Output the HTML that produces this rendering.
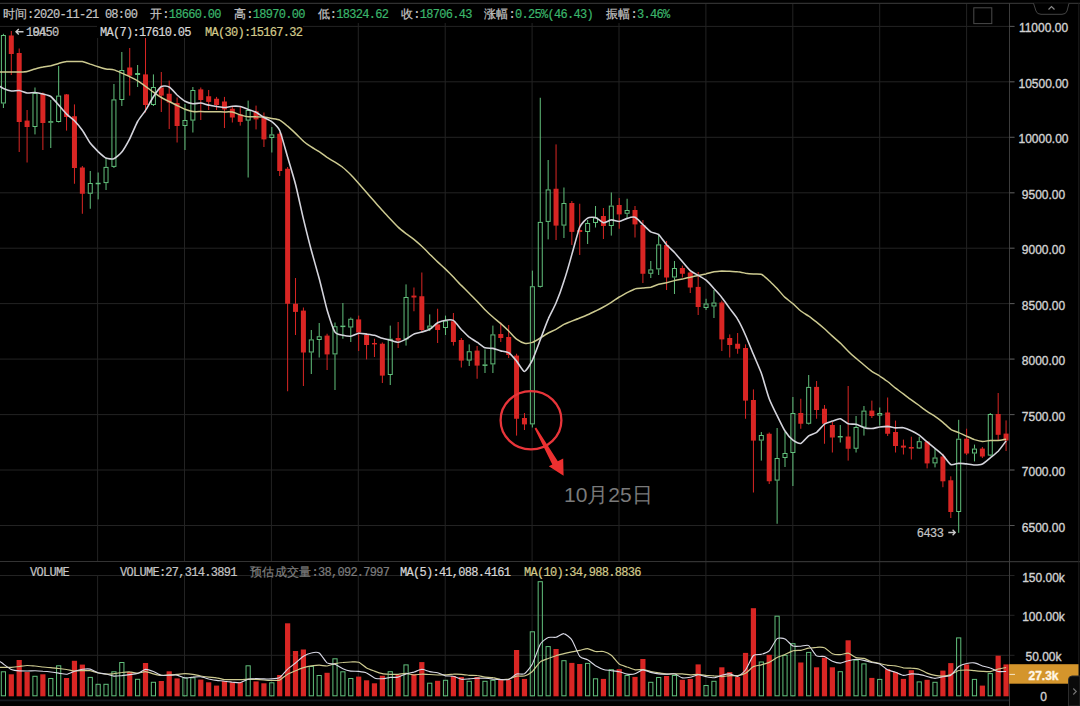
<!DOCTYPE html>
<html><head><meta charset="utf-8">
<style>
html,body{margin:0;padding:0;background:#000;}
body{width:1080px;height:706px;position:relative;overflow:hidden;}
svg{position:absolute;left:0;top:0;}
.t{position:absolute;-webkit-text-stroke:0.2px currentColor;font-family:"Liberation Mono",monospace;font-size:12px;letter-spacing:-0.72px;line-height:14px;white-space:pre;color:#c4c4c4;}
.cj{letter-spacing:0.3px;}
.gr{color:#3bb56b;}
.ax{position:absolute;left:1010px;width:67px;text-align:center;font-family:"Liberation Sans",sans-serif;font-size:12px;line-height:15px;color:#d2d2d2;-webkit-text-stroke:0.35px currentColor;}
.bg{position:absolute;background:#000;}
.note{position:absolute;left:564px;top:482.5px;font-family:"Liberation Sans",sans-serif;font-size:21px;line-height:24px;color:#7a7a7a;white-space:pre;}
</style></head><body>
<svg width="1080" height="706" viewBox="0 0 1080 706">
<line x1="0" y1="26.4" x2="1014.5" y2="26.4" stroke="#232323" stroke-width="1"/>
<line x1="0" y1="81.8" x2="1014.5" y2="81.8" stroke="#232323" stroke-width="1"/>
<line x1="0" y1="137.3" x2="1014.5" y2="137.3" stroke="#232323" stroke-width="1"/>
<line x1="0" y1="192.8" x2="1014.5" y2="192.8" stroke="#232323" stroke-width="1"/>
<line x1="0" y1="248.2" x2="1014.5" y2="248.2" stroke="#232323" stroke-width="1"/>
<line x1="0" y1="303.6" x2="1014.5" y2="303.6" stroke="#232323" stroke-width="1"/>
<line x1="0" y1="359.1" x2="1014.5" y2="359.1" stroke="#232323" stroke-width="1"/>
<line x1="0" y1="414.6" x2="1014.5" y2="414.6" stroke="#232323" stroke-width="1"/>
<line x1="0" y1="470.0" x2="1014.5" y2="470.0" stroke="#232323" stroke-width="1"/>
<line x1="0" y1="525.5" x2="1014.5" y2="525.5" stroke="#232323" stroke-width="1"/>
<line x1="0" y1="575.5" x2="1014.5" y2="575.5" stroke="#232323" stroke-width="1"/>
<line x1="0" y1="615.3" x2="1014.5" y2="615.3" stroke="#232323" stroke-width="1"/>
<line x1="0" y1="655.3" x2="1014.5" y2="655.3" stroke="#232323" stroke-width="1"/>
<line x1="97.6" y1="3" x2="97.6" y2="697" stroke="#232323" stroke-width="1"/>
<line x1="184.5" y1="3" x2="184.5" y2="697" stroke="#232323" stroke-width="1"/>
<line x1="271.4" y1="3" x2="271.4" y2="697" stroke="#232323" stroke-width="1"/>
<line x1="358.3" y1="3" x2="358.3" y2="697" stroke="#232323" stroke-width="1"/>
<line x1="445.2" y1="3" x2="445.2" y2="697" stroke="#232323" stroke-width="1"/>
<line x1="532.1" y1="3" x2="532.1" y2="697" stroke="#232323" stroke-width="1"/>
<line x1="619.0" y1="3" x2="619.0" y2="697" stroke="#232323" stroke-width="1"/>
<line x1="705.9" y1="3" x2="705.9" y2="697" stroke="#232323" stroke-width="1"/>
<line x1="792.8" y1="3" x2="792.8" y2="697" stroke="#232323" stroke-width="1"/>
<line x1="879.7" y1="3" x2="879.7" y2="697" stroke="#232323" stroke-width="1"/>
<line x1="966.6" y1="3" x2="966.6" y2="697" stroke="#232323" stroke-width="1"/>
<line x1="0" y1="3.3" x2="1080" y2="3.3" stroke="#303030" stroke-width="1.2"/>
<line x1="0" y1="561.6" x2="1080" y2="561.6" stroke="#333" stroke-width="1.2"/>
<line x1="0" y1="700.3" x2="1009" y2="700.3" stroke="#161a20" stroke-width="1.8"/>
<line x1="1009.5" y1="3" x2="1009.5" y2="706" stroke="#3c3c3c" stroke-width="1"/>
<line x1="1078.8" y1="3" x2="1078.8" y2="706" stroke="#1e1e1e" stroke-width="1"/>
<g fill="#d92624"><rect x="8.79" y="35.50" width="5" height="18.50"/><rect x="10.79" y="31.00" width="1" height="44.00"/><rect x="16.69" y="53.00" width="5" height="69.00"/><rect x="18.69" y="48.50" width="1" height="103.50"/><rect x="24.58" y="120.60" width="5" height="6.40"/><rect x="26.58" y="110.00" width="1" height="52.50"/><rect x="40.37" y="93.75" width="5" height="29.25"/><rect x="42.37" y="92.50" width="1" height="57.50"/><rect x="64.06" y="94.40" width="5" height="22.60"/><rect x="66.06" y="94.00" width="1" height="36.60"/><rect x="71.95" y="116.25" width="5" height="51.75"/><rect x="73.95" y="104.40" width="1" height="79.35"/><rect x="79.85" y="167.50" width="5" height="26.25"/><rect x="81.85" y="166.00" width="1" height="47.75"/><rect x="127.22" y="67.50" width="5" height="8.10"/><rect x="129.22" y="48.00" width="1" height="47.60"/><rect x="143.01" y="74.40" width="5" height="30.60"/><rect x="145.01" y="36.25" width="1" height="76.25"/><rect x="158.80" y="87.50" width="5" height="8.10"/><rect x="160.80" y="72.00" width="1" height="40.00"/><rect x="166.69" y="93.75" width="5" height="8.75"/><rect x="168.69" y="80.60" width="1" height="48.40"/><rect x="174.59" y="103.00" width="5" height="23.00"/><rect x="176.59" y="97.50" width="1" height="45.00"/><rect x="198.28" y="89.40" width="5" height="10.60"/><rect x="200.28" y="87.50" width="1" height="32.50"/><rect x="206.17" y="96.25" width="5" height="5.65"/><rect x="208.17" y="90.00" width="1" height="20.00"/><rect x="214.06" y="98.75" width="5" height="6.25"/><rect x="216.06" y="96.90" width="1" height="13.10"/><rect x="221.96" y="101.50" width="5" height="7.90"/><rect x="223.96" y="96.90" width="1" height="31.10"/><rect x="229.85" y="108.75" width="5" height="8.75"/><rect x="231.85" y="107.00" width="1" height="15.50"/><rect x="237.75" y="114.40" width="5" height="7.50"/><rect x="239.75" y="107.00" width="1" height="18.60"/><rect x="253.54" y="111.25" width="5" height="8.15"/><rect x="255.54" y="105.60" width="1" height="23.80"/><rect x="261.43" y="117.50" width="5" height="21.90"/><rect x="263.43" y="112.50" width="1" height="34.50"/><rect x="277.22" y="133.75" width="5" height="37.25"/><rect x="279.22" y="132.00" width="1" height="44.00"/><rect x="285.12" y="168.75" width="5" height="135.00"/><rect x="287.12" y="167.00" width="1" height="224.25"/><rect x="293.01" y="303.75" width="5" height="8.15"/><rect x="295.01" y="278.00" width="1" height="57.00"/><rect x="300.91" y="310.60" width="5" height="41.90"/><rect x="302.91" y="307.50" width="1" height="78.50"/><rect x="324.59" y="335.60" width="5" height="18.80"/><rect x="326.59" y="333.75" width="1" height="36.25"/><rect x="356.17" y="319.40" width="5" height="13.10"/><rect x="358.17" y="315.60" width="1" height="35.40"/><rect x="364.07" y="335.00" width="5" height="10.00"/><rect x="366.07" y="333.00" width="1" height="26.40"/><rect x="371.96" y="343.00" width="5" height="1.40"/><rect x="373.96" y="338.75" width="1" height="18.25"/><rect x="379.86" y="343.75" width="5" height="31.85"/><rect x="381.86" y="342.50" width="1" height="40.50"/><rect x="395.65" y="338.00" width="5" height="2.60"/><rect x="397.65" y="322.00" width="1" height="26.00"/><rect x="411.44" y="295.60" width="5" height="1.90"/><rect x="413.44" y="287.50" width="1" height="23.75"/><rect x="419.33" y="296.25" width="5" height="33.75"/><rect x="421.33" y="272.50" width="1" height="59.50"/><rect x="435.12" y="324.40" width="5" height="5.60"/><rect x="437.12" y="308.75" width="1" height="34.25"/><rect x="450.91" y="321.25" width="5" height="20.75"/><rect x="452.91" y="313.00" width="1" height="32.60"/><rect x="458.81" y="340.00" width="5" height="20.60"/><rect x="460.81" y="338.00" width="1" height="29.50"/><rect x="474.60" y="350.60" width="5" height="15.00"/><rect x="476.60" y="346.00" width="1" height="32.75"/><rect x="498.28" y="334.00" width="5" height="4.00"/><rect x="500.28" y="322.50" width="1" height="19.50"/><rect x="506.18" y="337.00" width="5" height="18.00"/><rect x="508.18" y="325.00" width="1" height="33.00"/><rect x="514.07" y="355.60" width="5" height="63.15"/><rect x="516.07" y="353.75" width="1" height="81.85"/><rect x="521.97" y="418.00" width="5" height="6.40"/><rect x="523.97" y="413.00" width="1" height="17.00"/><rect x="553.55" y="188.75" width="5" height="36.85"/><rect x="555.55" y="144.40" width="1" height="95.60"/><rect x="569.34" y="203.00" width="5" height="28.90"/><rect x="571.34" y="201.00" width="1" height="44.00"/><rect x="577.23" y="230.00" width="5" height="2.00"/><rect x="579.23" y="203.75" width="1" height="51.25"/><rect x="600.92" y="216.00" width="5" height="10.00"/><rect x="602.92" y="208.00" width="1" height="31.00"/><rect x="616.71" y="205.00" width="5" height="9.40"/><rect x="618.71" y="198.00" width="1" height="30.75"/><rect x="632.50" y="210.00" width="5" height="14.40"/><rect x="634.50" y="206.00" width="1" height="31.50"/><rect x="640.39" y="225.00" width="5" height="48.75"/><rect x="642.39" y="220.00" width="1" height="63.00"/><rect x="664.08" y="245.00" width="5" height="32.50"/><rect x="666.08" y="241.00" width="1" height="49.00"/><rect x="679.87" y="268.00" width="5" height="5.75"/><rect x="681.87" y="265.60" width="1" height="11.90"/><rect x="687.76" y="272.50" width="5" height="15.00"/><rect x="689.76" y="270.00" width="1" height="23.00"/><rect x="695.66" y="286.90" width="5" height="20.10"/><rect x="697.66" y="272.00" width="1" height="43.00"/><rect x="719.34" y="302.50" width="5" height="36.90"/><rect x="721.34" y="300.60" width="1" height="50.40"/><rect x="727.24" y="338.00" width="5" height="7.00"/><rect x="729.24" y="334.40" width="1" height="23.10"/><rect x="735.13" y="343.75" width="5" height="5.00"/><rect x="737.13" y="333.00" width="1" height="20.75"/><rect x="743.03" y="348.00" width="5" height="52.60"/><rect x="745.03" y="344.40" width="1" height="74.35"/><rect x="750.92" y="400.00" width="5" height="40.60"/><rect x="752.92" y="389.40" width="1" height="103.10"/><rect x="766.71" y="433.75" width="5" height="47.50"/><rect x="768.71" y="432.50" width="1" height="51.50"/><rect x="798.29" y="413.00" width="5" height="10.75"/><rect x="800.29" y="398.75" width="1" height="30.00"/><rect x="814.08" y="386.90" width="5" height="23.10"/><rect x="816.08" y="381.00" width="1" height="37.75"/><rect x="821.98" y="408.75" width="5" height="15.00"/><rect x="823.98" y="405.00" width="1" height="38.75"/><rect x="829.87" y="425.00" width="5" height="12.50"/><rect x="831.87" y="422.00" width="1" height="30.50"/><rect x="845.66" y="436.50" width="5" height="12.25"/><rect x="847.66" y="386.00" width="1" height="74.60"/><rect x="869.35" y="410.60" width="5" height="5.40"/><rect x="871.35" y="400.60" width="1" height="17.40"/><rect x="885.14" y="412.50" width="5" height="21.25"/><rect x="887.14" y="397.50" width="1" height="38.50"/><rect x="893.03" y="432.00" width="5" height="14.00"/><rect x="895.03" y="420.60" width="1" height="31.90"/><rect x="900.93" y="445.60" width="5" height="2.00"/><rect x="902.93" y="439.60" width="1" height="14.90"/><rect x="908.82" y="447.00" width="5" height="1.60"/><rect x="910.82" y="436.70" width="1" height="22.80"/><rect x="924.61" y="441.60" width="5" height="21.80"/><rect x="926.61" y="441.00" width="1" height="27.40"/><rect x="940.40" y="456.50" width="5" height="24.80"/><rect x="942.40" y="453.75" width="1" height="33.45"/><rect x="948.30" y="480.30" width="5" height="31.70"/><rect x="950.30" y="476.30" width="1" height="41.70"/><rect x="964.09" y="438.70" width="5" height="14.80"/><rect x="966.09" y="428.70" width="1" height="26.30"/><rect x="979.88" y="448.60" width="5" height="7.90"/><rect x="981.88" y="447.00" width="1" height="11.00"/><rect x="995.67" y="414.00" width="5" height="20.80"/><rect x="997.67" y="393.00" width="1" height="47.00"/><rect x="1003.56" y="433.60" width="5" height="6.90"/><rect x="1005.56" y="420.40" width="1" height="30.60"/></g>
<g><rect x="1.40" y="35.50" width="4" height="67.50" fill="none" stroke="#62c07c" stroke-width="1"/><rect x="2.90" y="33.80" width="1" height="1.20" fill="#62c07c"/><rect x="2.90" y="103.50" width="1" height="4.50" fill="#62c07c"/><rect x="32.98" y="93.50" width="4" height="33.00" fill="none" stroke="#62c07c" stroke-width="1"/><rect x="34.48" y="87.50" width="1" height="5.50" fill="#62c07c"/><rect x="34.48" y="127.00" width="1" height="7.40" fill="#62c07c"/><rect x="48.77" y="121.70" width="4" height="0.50" fill="none" stroke="#62c07c" stroke-width="1"/><rect x="50.27" y="100.00" width="1" height="21.20" fill="#62c07c"/><rect x="50.27" y="122.70" width="1" height="25.30" fill="#62c07c"/><rect x="56.66" y="96.10" width="4" height="25.40" fill="none" stroke="#62c07c" stroke-width="1"/><rect x="58.16" y="66.00" width="1" height="29.60" fill="#62c07c"/><rect x="58.16" y="122.00" width="1" height="0.50" fill="#62c07c"/><rect x="88.25" y="183.50" width="4" height="9.75" fill="none" stroke="#62c07c" stroke-width="1"/><rect x="89.75" y="171.00" width="1" height="12.00" fill="#62c07c"/><rect x="89.75" y="193.75" width="1" height="15.00" fill="#62c07c"/><rect x="96.14" y="183.25" width="4" height="0.50" fill="none" stroke="#62c07c" stroke-width="1"/><rect x="97.64" y="172.50" width="1" height="10.25" fill="#62c07c"/><rect x="97.64" y="183.75" width="1" height="15.65" fill="#62c07c"/><rect x="104.03" y="167.40" width="4" height="15.20" fill="none" stroke="#62c07c" stroke-width="1"/><rect x="105.53" y="158.00" width="1" height="8.90" fill="#62c07c"/><rect x="105.53" y="183.10" width="1" height="6.90" fill="#62c07c"/><rect x="111.93" y="99.90" width="4" height="66.50" fill="none" stroke="#62c07c" stroke-width="1"/><rect x="113.43" y="84.00" width="1" height="15.40" fill="#62c07c"/><rect x="113.43" y="166.90" width="1" height="1.10" fill="#62c07c"/><rect x="119.83" y="70.50" width="4" height="29.00" fill="none" stroke="#62c07c" stroke-width="1"/><rect x="121.33" y="52.00" width="1" height="18.00" fill="#62c07c"/><rect x="121.33" y="100.00" width="1" height="6.00" fill="#62c07c"/><rect x="135.62" y="73.50" width="4" height="1.00" fill="none" stroke="#62c07c" stroke-width="1"/><rect x="137.12" y="65.00" width="1" height="8.00" fill="#62c07c"/><rect x="137.12" y="75.00" width="1" height="12.00" fill="#62c07c"/><rect x="151.41" y="87.50" width="4" height="17.00" fill="none" stroke="#62c07c" stroke-width="1"/><rect x="152.91" y="74.40" width="1" height="12.60" fill="#62c07c"/><rect x="152.91" y="105.00" width="1" height="1.00" fill="#62c07c"/><rect x="182.98" y="120.50" width="4" height="5.00" fill="none" stroke="#62c07c" stroke-width="1"/><rect x="184.48" y="104.00" width="1" height="16.00" fill="#62c07c"/><rect x="184.48" y="126.00" width="1" height="24.00" fill="#62c07c"/><rect x="190.88" y="90.50" width="4" height="29.60" fill="none" stroke="#62c07c" stroke-width="1"/><rect x="192.38" y="87.00" width="1" height="3.00" fill="#62c07c"/><rect x="192.38" y="120.60" width="1" height="11.90" fill="#62c07c"/><rect x="246.14" y="110.50" width="4" height="9.60" fill="none" stroke="#62c07c" stroke-width="1"/><rect x="247.64" y="100.60" width="1" height="9.40" fill="#62c07c"/><rect x="247.64" y="120.60" width="1" height="56.90" fill="#62c07c"/><rect x="269.83" y="134.90" width="4" height="2.60" fill="none" stroke="#62c07c" stroke-width="1"/><rect x="271.33" y="127.00" width="1" height="7.40" fill="#62c07c"/><rect x="271.33" y="138.00" width="1" height="14.50" fill="#62c07c"/><rect x="309.30" y="339.90" width="4" height="12.10" fill="none" stroke="#62c07c" stroke-width="1"/><rect x="310.80" y="330.00" width="1" height="9.40" fill="#62c07c"/><rect x="310.80" y="352.50" width="1" height="21.50" fill="#62c07c"/><rect x="317.20" y="336.75" width="4" height="2.75" fill="none" stroke="#62c07c" stroke-width="1"/><rect x="318.70" y="323.00" width="1" height="13.25" fill="#62c07c"/><rect x="318.70" y="340.00" width="1" height="17.50" fill="#62c07c"/><rect x="332.99" y="326.75" width="4" height="27.15" fill="none" stroke="#62c07c" stroke-width="1"/><rect x="334.49" y="322.50" width="1" height="3.75" fill="#62c07c"/><rect x="334.49" y="354.40" width="1" height="35.60" fill="#62c07c"/><rect x="340.88" y="326.10" width="4" height="0.50" fill="none" stroke="#62c07c" stroke-width="1"/><rect x="342.38" y="303.00" width="1" height="22.60" fill="#62c07c"/><rect x="342.38" y="327.00" width="1" height="11.75" fill="#62c07c"/><rect x="348.78" y="319.25" width="4" height="7.75" fill="none" stroke="#62c07c" stroke-width="1"/><rect x="350.28" y="317.50" width="1" height="1.25" fill="#62c07c"/><rect x="350.28" y="327.50" width="1" height="14.50" fill="#62c07c"/><rect x="388.25" y="339.25" width="4" height="35.25" fill="none" stroke="#62c07c" stroke-width="1"/><rect x="389.75" y="325.60" width="1" height="13.15" fill="#62c07c"/><rect x="389.75" y="375.00" width="1" height="10.00" fill="#62c07c"/><rect x="404.04" y="297.50" width="4" height="41.40" fill="none" stroke="#62c07c" stroke-width="1"/><rect x="405.54" y="284.40" width="1" height="12.60" fill="#62c07c"/><rect x="405.54" y="339.40" width="1" height="6.20" fill="#62c07c"/><rect x="427.73" y="326.10" width="4" height="2.15" fill="none" stroke="#62c07c" stroke-width="1"/><rect x="429.23" y="314.40" width="1" height="11.20" fill="#62c07c"/><rect x="429.23" y="328.75" width="1" height="2.25" fill="#62c07c"/><rect x="443.52" y="321.10" width="4" height="6.40" fill="none" stroke="#62c07c" stroke-width="1"/><rect x="445.02" y="315.60" width="1" height="5.00" fill="#62c07c"/><rect x="445.02" y="328.00" width="1" height="7.00" fill="#62c07c"/><rect x="467.20" y="351.75" width="4" height="8.35" fill="none" stroke="#62c07c" stroke-width="1"/><rect x="468.70" y="344.40" width="1" height="6.85" fill="#62c07c"/><rect x="468.70" y="360.60" width="1" height="5.40" fill="#62c07c"/><rect x="482.99" y="364.90" width="4" height="0.50" fill="none" stroke="#62c07c" stroke-width="1"/><rect x="484.49" y="349.40" width="1" height="15.00" fill="#62c07c"/><rect x="484.49" y="365.60" width="1" height="7.40" fill="#62c07c"/><rect x="490.89" y="334.90" width="4" height="29.00" fill="none" stroke="#62c07c" stroke-width="1"/><rect x="492.39" y="325.60" width="1" height="8.80" fill="#62c07c"/><rect x="492.39" y="364.40" width="1" height="8.60" fill="#62c07c"/><rect x="530.36" y="286.75" width="4" height="137.15" fill="none" stroke="#62c07c" stroke-width="1"/><rect x="531.86" y="270.60" width="1" height="15.65" fill="#62c07c"/><rect x="531.86" y="424.40" width="1" height="3.10" fill="#62c07c"/><rect x="538.26" y="222.40" width="4" height="64.00" fill="none" stroke="#62c07c" stroke-width="1"/><rect x="539.76" y="97.75" width="1" height="124.15" fill="#62c07c"/><rect x="539.76" y="286.90" width="1" height="0.60" fill="#62c07c"/><rect x="546.15" y="189.90" width="4" height="31.50" fill="none" stroke="#62c07c" stroke-width="1"/><rect x="547.65" y="160.00" width="1" height="29.40" fill="#62c07c"/><rect x="547.65" y="221.90" width="1" height="17.50" fill="#62c07c"/><rect x="561.94" y="203.50" width="4" height="21.60" fill="none" stroke="#62c07c" stroke-width="1"/><rect x="563.44" y="187.50" width="1" height="15.50" fill="#62c07c"/><rect x="563.44" y="225.60" width="1" height="12.40" fill="#62c07c"/><rect x="585.63" y="223.50" width="4" height="8.00" fill="none" stroke="#62c07c" stroke-width="1"/><rect x="587.13" y="220.00" width="1" height="3.00" fill="#62c07c"/><rect x="587.13" y="232.00" width="1" height="12.00" fill="#62c07c"/><rect x="593.52" y="218.00" width="4" height="4.50" fill="none" stroke="#62c07c" stroke-width="1"/><rect x="595.02" y="206.00" width="1" height="11.50" fill="#62c07c"/><rect x="595.02" y="223.00" width="1" height="4.50" fill="#62c07c"/><rect x="609.31" y="206.10" width="4" height="19.40" fill="none" stroke="#62c07c" stroke-width="1"/><rect x="610.81" y="192.50" width="1" height="13.10" fill="#62c07c"/><rect x="610.81" y="226.00" width="1" height="9.60" fill="#62c07c"/><rect x="625.10" y="210.50" width="4" height="2.75" fill="none" stroke="#62c07c" stroke-width="1"/><rect x="626.60" y="198.75" width="1" height="11.25" fill="#62c07c"/><rect x="626.60" y="213.75" width="1" height="5.00" fill="#62c07c"/><rect x="648.79" y="269.90" width="4" height="3.35" fill="none" stroke="#62c07c" stroke-width="1"/><rect x="650.29" y="261.00" width="1" height="8.40" fill="#62c07c"/><rect x="650.29" y="273.75" width="1" height="4.25" fill="#62c07c"/><rect x="656.68" y="244.90" width="4" height="24.00" fill="none" stroke="#62c07c" stroke-width="1"/><rect x="658.18" y="233.75" width="1" height="10.65" fill="#62c07c"/><rect x="658.18" y="269.40" width="1" height="5.60" fill="#62c07c"/><rect x="672.47" y="268.50" width="4" height="8.50" fill="none" stroke="#62c07c" stroke-width="1"/><rect x="673.97" y="261.00" width="1" height="7.00" fill="#62c07c"/><rect x="673.97" y="277.50" width="1" height="16.50" fill="#62c07c"/><rect x="704.05" y="304.00" width="4" height="3.50" fill="none" stroke="#62c07c" stroke-width="1"/><rect x="705.55" y="298.75" width="1" height="4.75" fill="#62c07c"/><rect x="705.55" y="308.00" width="1" height="2.00" fill="#62c07c"/><rect x="711.95" y="303.00" width="4" height="3.00" fill="none" stroke="#62c07c" stroke-width="1"/><rect x="713.45" y="290.00" width="1" height="12.50" fill="#62c07c"/><rect x="713.45" y="306.50" width="1" height="11.50" fill="#62c07c"/><rect x="759.32" y="435.50" width="4" height="4.60" fill="none" stroke="#62c07c" stroke-width="1"/><rect x="760.82" y="432.00" width="1" height="3.00" fill="#62c07c"/><rect x="760.82" y="440.60" width="1" height="20.00" fill="#62c07c"/><rect x="775.11" y="458.50" width="4" height="21.60" fill="none" stroke="#62c07c" stroke-width="1"/><rect x="776.61" y="428.00" width="1" height="30.00" fill="#62c07c"/><rect x="776.61" y="480.60" width="1" height="43.15" fill="#62c07c"/><rect x="783.00" y="453.50" width="4" height="4.00" fill="none" stroke="#62c07c" stroke-width="1"/><rect x="784.50" y="432.00" width="1" height="21.00" fill="#62c07c"/><rect x="784.50" y="458.00" width="1" height="9.00" fill="#62c07c"/><rect x="790.90" y="413.50" width="4" height="39.00" fill="none" stroke="#62c07c" stroke-width="1"/><rect x="792.40" y="397.00" width="1" height="16.00" fill="#62c07c"/><rect x="792.40" y="453.00" width="1" height="33.00" fill="#62c07c"/><rect x="806.69" y="387.40" width="4" height="35.85" fill="none" stroke="#62c07c" stroke-width="1"/><rect x="808.19" y="375.00" width="1" height="11.90" fill="#62c07c"/><rect x="808.19" y="423.75" width="1" height="0.75" fill="#62c07c"/><rect x="838.27" y="436.50" width="4" height="0.50" fill="none" stroke="#62c07c" stroke-width="1"/><rect x="839.77" y="425.00" width="1" height="11.00" fill="#62c07c"/><rect x="839.77" y="437.50" width="1" height="5.00" fill="#62c07c"/><rect x="854.06" y="427.50" width="4" height="20.75" fill="none" stroke="#62c07c" stroke-width="1"/><rect x="855.56" y="416.00" width="1" height="11.00" fill="#62c07c"/><rect x="855.56" y="448.75" width="1" height="3.75" fill="#62c07c"/><rect x="861.95" y="411.10" width="4" height="15.90" fill="none" stroke="#62c07c" stroke-width="1"/><rect x="863.45" y="406.00" width="1" height="4.60" fill="#62c07c"/><rect x="863.45" y="427.50" width="1" height="8.10" fill="#62c07c"/><rect x="877.74" y="413.50" width="4" height="1.60" fill="none" stroke="#62c07c" stroke-width="1"/><rect x="879.24" y="407.50" width="1" height="5.50" fill="#62c07c"/><rect x="879.24" y="415.60" width="1" height="10.00" fill="#62c07c"/><rect x="917.22" y="441.70" width="4" height="6.30" fill="none" stroke="#62c07c" stroke-width="1"/><rect x="918.72" y="436.70" width="1" height="4.50" fill="#62c07c"/><rect x="918.72" y="448.50" width="1" height="0.50" fill="#62c07c"/><rect x="933.01" y="458.00" width="4" height="4.90" fill="none" stroke="#62c07c" stroke-width="1"/><rect x="934.51" y="448.60" width="1" height="8.90" fill="#62c07c"/><rect x="934.51" y="463.40" width="1" height="4.00" fill="#62c07c"/><rect x="956.69" y="439.20" width="4" height="72.30" fill="none" stroke="#62c07c" stroke-width="1"/><rect x="958.19" y="419.80" width="1" height="18.90" fill="#62c07c"/><rect x="958.19" y="512.00" width="1" height="20.80" fill="#62c07c"/><rect x="972.48" y="449.10" width="4" height="3.90" fill="none" stroke="#62c07c" stroke-width="1"/><rect x="973.98" y="444.60" width="1" height="4.00" fill="#62c07c"/><rect x="973.98" y="453.50" width="1" height="7.90" fill="#62c07c"/><rect x="988.27" y="414.50" width="4" height="40.60" fill="none" stroke="#62c07c" stroke-width="1"/><rect x="989.77" y="413.00" width="1" height="1.00" fill="#62c07c"/><rect x="989.77" y="455.60" width="1" height="0.40" fill="#62c07c"/></g>
<g fill="#d92624"><rect x="8.70" y="674.30" width="5.2" height="22.00"/><rect x="16.59" y="660.00" width="5.2" height="36.30"/><rect x="24.48" y="672.00" width="5.2" height="24.30"/><rect x="40.27" y="674.30" width="5.2" height="22.00"/><rect x="63.96" y="678.00" width="5.2" height="18.30"/><rect x="71.86" y="660.80" width="5.2" height="35.50"/><rect x="79.75" y="664.60" width="5.2" height="31.70"/><rect x="127.12" y="672.00" width="5.2" height="24.30"/><rect x="142.91" y="663.00" width="5.2" height="33.30"/><rect x="158.70" y="681.00" width="5.2" height="15.30"/><rect x="166.59" y="671.30" width="5.2" height="25.00"/><rect x="174.49" y="678.40" width="5.2" height="17.90"/><rect x="198.18" y="679.60" width="5.2" height="16.70"/><rect x="206.07" y="682.30" width="5.2" height="14.00"/><rect x="213.97" y="685.60" width="5.2" height="10.70"/><rect x="221.86" y="681.00" width="5.2" height="15.30"/><rect x="229.75" y="682.30" width="5.2" height="14.00"/><rect x="237.65" y="682.30" width="5.2" height="14.00"/><rect x="253.44" y="681.40" width="5.2" height="14.90"/><rect x="261.33" y="683.30" width="5.2" height="13.00"/><rect x="277.12" y="675.00" width="5.2" height="21.30"/><rect x="285.02" y="623.30" width="5.2" height="73.00"/><rect x="292.91" y="651.00" width="5.2" height="45.30"/><rect x="300.81" y="649.50" width="5.2" height="46.80"/><rect x="324.49" y="672.80" width="5.2" height="23.50"/><rect x="356.07" y="676.60" width="5.2" height="19.70"/><rect x="363.97" y="680.30" width="5.2" height="16.00"/><rect x="371.86" y="683.30" width="5.2" height="13.00"/><rect x="379.76" y="675.80" width="5.2" height="20.50"/><rect x="395.55" y="675.00" width="5.2" height="21.30"/><rect x="411.34" y="674.00" width="5.2" height="22.30"/><rect x="419.23" y="662.10" width="5.2" height="34.20"/><rect x="435.02" y="680.80" width="5.2" height="15.50"/><rect x="450.81" y="676.00" width="5.2" height="20.30"/><rect x="458.71" y="677.00" width="5.2" height="19.30"/><rect x="474.50" y="677.00" width="5.2" height="19.30"/><rect x="498.18" y="679.80" width="5.2" height="16.50"/><rect x="506.08" y="679.80" width="5.2" height="16.50"/><rect x="513.97" y="650.00" width="5.2" height="46.30"/><rect x="521.87" y="678.90" width="5.2" height="17.40"/><rect x="553.45" y="649.00" width="5.2" height="47.30"/><rect x="569.24" y="662.90" width="5.2" height="33.40"/><rect x="577.13" y="664.00" width="5.2" height="32.30"/><rect x="600.82" y="678.90" width="5.2" height="17.40"/><rect x="616.61" y="669.20" width="5.2" height="27.10"/><rect x="632.40" y="676.90" width="5.2" height="19.40"/><rect x="640.29" y="659.00" width="5.2" height="37.30"/><rect x="663.98" y="676.00" width="5.2" height="20.30"/><rect x="679.77" y="679.80" width="5.2" height="16.50"/><rect x="687.66" y="678.90" width="5.2" height="17.40"/><rect x="695.56" y="664.40" width="5.2" height="31.90"/><rect x="719.24" y="667.30" width="5.2" height="29.00"/><rect x="727.14" y="672.10" width="5.2" height="24.20"/><rect x="735.03" y="677.00" width="5.2" height="19.30"/><rect x="742.93" y="652.90" width="5.2" height="43.40"/><rect x="750.82" y="608.20" width="5.2" height="88.10"/><rect x="766.61" y="654.80" width="5.2" height="41.50"/><rect x="798.19" y="662.50" width="5.2" height="33.80"/><rect x="813.98" y="667.30" width="5.2" height="29.00"/><rect x="821.88" y="657.70" width="5.2" height="38.60"/><rect x="829.77" y="667.30" width="5.2" height="29.00"/><rect x="845.56" y="640.30" width="5.2" height="56.00"/><rect x="869.25" y="677.90" width="5.2" height="18.40"/><rect x="885.04" y="669.20" width="5.2" height="27.10"/><rect x="892.93" y="672.10" width="5.2" height="24.20"/><rect x="900.83" y="678.90" width="5.2" height="17.40"/><rect x="908.72" y="670.20" width="5.2" height="26.10"/><rect x="924.51" y="679.80" width="5.2" height="16.50"/><rect x="940.30" y="670.60" width="5.2" height="25.70"/><rect x="948.20" y="663.10" width="5.2" height="33.20"/><rect x="963.99" y="664.40" width="5.2" height="31.90"/><rect x="979.78" y="685.60" width="5.2" height="10.70"/><rect x="995.57" y="655.70" width="5.2" height="40.60"/><rect x="1003.46" y="664.40" width="5.2" height="31.90"/></g>
<g fill="none" stroke="#62c07c" stroke-width="1"><rect x="1.30" y="671.80" width="4.2" height="24.00"/><rect x="32.88" y="676.30" width="4.2" height="19.50"/><rect x="48.67" y="678.50" width="4.2" height="17.30"/><rect x="56.56" y="665.80" width="4.2" height="30.00"/><rect x="88.15" y="677.40" width="4.2" height="18.40"/><rect x="96.04" y="684.30" width="4.2" height="11.50"/><rect x="103.94" y="684.30" width="4.2" height="11.50"/><rect x="111.83" y="671.80" width="4.2" height="24.00"/><rect x="119.73" y="662.50" width="4.2" height="33.30"/><rect x="135.52" y="679.30" width="4.2" height="16.50"/><rect x="151.31" y="682.30" width="4.2" height="13.50"/><rect x="182.88" y="677.80" width="4.2" height="18.00"/><rect x="190.78" y="677.80" width="4.2" height="18.00"/><rect x="246.04" y="665.80" width="4.2" height="30.00"/><rect x="269.73" y="682.80" width="4.2" height="13.00"/><rect x="309.20" y="666.50" width="4.2" height="29.30"/><rect x="317.10" y="675.50" width="4.2" height="20.30"/><rect x="332.89" y="658.80" width="4.2" height="37.00"/><rect x="340.78" y="671.80" width="4.2" height="24.00"/><rect x="348.68" y="678.50" width="4.2" height="17.30"/><rect x="388.15" y="671.70" width="4.2" height="24.10"/><rect x="403.94" y="664.90" width="4.2" height="30.90"/><rect x="427.63" y="683.20" width="4.2" height="12.60"/><rect x="443.42" y="680.30" width="4.2" height="15.50"/><rect x="467.10" y="681.30" width="4.2" height="14.50"/><rect x="482.89" y="681.30" width="4.2" height="14.50"/><rect x="490.79" y="680.30" width="4.2" height="15.50"/><rect x="530.26" y="631.80" width="4.2" height="64.00"/><rect x="538.16" y="581.70" width="4.2" height="114.10"/><rect x="546.05" y="646.60" width="4.2" height="49.20"/><rect x="561.84" y="660.70" width="4.2" height="35.10"/><rect x="585.53" y="663.40" width="4.2" height="32.40"/><rect x="593.42" y="678.80" width="4.2" height="17.00"/><rect x="609.21" y="669.70" width="4.2" height="26.10"/><rect x="625.00" y="675.50" width="4.2" height="20.30"/><rect x="648.69" y="682.30" width="4.2" height="13.50"/><rect x="656.58" y="677.50" width="4.2" height="18.30"/><rect x="672.37" y="675.50" width="4.2" height="20.30"/><rect x="703.95" y="685.50" width="4.2" height="10.30"/><rect x="711.85" y="681.30" width="4.2" height="14.50"/><rect x="759.22" y="662.00" width="4.2" height="33.80"/><rect x="775.01" y="616.20" width="4.2" height="79.60"/><rect x="782.90" y="655.30" width="4.2" height="40.50"/><rect x="790.80" y="643.70" width="4.2" height="52.10"/><rect x="806.59" y="652.40" width="4.2" height="43.40"/><rect x="838.17" y="671.70" width="4.2" height="24.10"/><rect x="853.96" y="660.10" width="4.2" height="35.70"/><rect x="861.85" y="663.90" width="4.2" height="31.90"/><rect x="877.64" y="679.40" width="4.2" height="16.40"/><rect x="917.12" y="681.90" width="4.2" height="13.90"/><rect x="932.91" y="682.30" width="4.2" height="13.50"/><rect x="956.59" y="637.90" width="4.2" height="57.90"/><rect x="972.38" y="679.40" width="4.2" height="16.40"/><rect x="988.17" y="673.60" width="4.2" height="22.20"/></g>
<path d="M-3.0,72.0 C-2.4,72.0 2.0,72.0 3.4,72.0 C4.8,72.0 9.7,72.0 11.3,72.0 C12.9,72.0 17.6,72.1 19.2,72.0 C20.8,71.9 25.5,71.7 27.1,71.4 C28.7,71.1 33.4,69.4 35.0,69.0 C36.6,68.6 41.3,67.4 42.9,67.1 C44.5,66.7 49.2,66.1 50.8,65.8 C52.3,65.4 57.1,63.8 58.7,63.4 C60.2,63.0 65.0,61.7 66.6,61.5 C68.1,61.3 72.9,61.5 74.5,61.5 C76.0,61.5 80.8,61.2 82.3,61.5 C83.9,61.8 88.7,63.5 90.2,64.1 C91.8,64.6 96.6,66.3 98.1,66.8 C99.7,67.3 104.5,68.7 106.0,69.0 C107.6,69.3 112.4,69.5 113.9,69.9 C115.5,70.3 120.2,72.4 121.8,73.1 C123.4,73.7 128.1,76.0 129.7,76.7 C131.3,77.5 136.0,79.8 137.6,80.8 C139.2,81.7 143.9,85.1 145.5,86.3 C147.1,87.4 151.8,91.1 153.4,92.2 C155.0,93.4 159.7,96.6 161.3,97.5 C162.9,98.4 167.6,100.7 169.2,101.5 C170.8,102.3 175.5,104.7 177.1,105.5 C178.7,106.3 183.4,108.7 185.0,109.3 C186.6,109.9 191.3,111.3 192.9,111.5 C194.5,111.8 199.2,111.6 200.8,111.6 C202.4,111.6 207.1,111.7 208.7,111.7 C210.2,111.7 215.0,111.8 216.6,111.8 C218.1,111.8 222.9,111.9 224.5,111.9 C226.0,111.9 230.8,111.7 232.4,112.0 C233.9,112.3 238.7,114.4 240.2,114.9 C241.8,115.4 246.6,116.6 248.1,116.8 C249.7,116.9 254.5,116.6 256.0,116.7 C257.6,116.7 262.4,116.9 263.9,117.1 C265.5,117.3 270.3,118.2 271.8,118.5 C273.4,118.8 278.1,119.3 279.7,120.1 C281.3,120.8 286.0,124.8 287.6,126.2 C289.2,127.5 293.9,131.9 295.5,133.4 C297.1,134.9 301.8,139.9 303.4,141.2 C305.0,142.6 309.7,145.9 311.3,146.9 C312.9,148.0 317.6,150.6 319.2,151.7 C320.8,152.7 325.5,156.3 327.1,157.4 C328.7,158.4 333.4,161.2 335.0,162.2 C336.6,163.2 341.3,166.2 342.9,167.5 C344.5,168.7 349.2,173.2 350.8,174.8 C352.4,176.4 357.1,181.8 358.7,183.5 C360.3,185.3 365.0,190.7 366.6,192.5 C368.1,194.3 372.9,199.8 374.5,201.6 C376.0,203.4 380.8,208.8 382.4,210.6 C383.9,212.3 388.7,217.3 390.3,219.0 C391.8,220.6 396.6,225.7 398.1,227.1 C399.7,228.6 404.5,232.4 406.0,233.6 C407.6,234.8 412.4,238.1 413.9,239.3 C415.5,240.6 420.3,244.8 421.8,246.3 C423.4,247.8 428.2,252.6 429.7,254.2 C431.3,255.7 436.0,260.4 437.6,261.9 C439.2,263.4 443.9,267.6 445.5,269.1 C447.1,270.7 451.8,275.4 453.4,277.0 C455.0,278.7 459.7,283.8 461.3,285.4 C462.9,287.0 467.6,291.6 469.2,293.2 C470.8,294.8 475.5,299.7 477.1,301.3 C478.7,303.0 483.4,308.2 485.0,309.8 C486.6,311.4 491.3,315.6 492.9,317.0 C494.5,318.4 499.2,322.2 500.8,323.6 C502.4,325.0 507.1,329.4 508.7,331.0 C510.3,332.5 515.0,338.0 516.6,339.2 C518.2,340.4 522.9,342.9 524.5,343.2 C526.0,343.6 530.8,342.9 532.4,342.4 C533.9,341.9 538.7,339.0 540.3,338.0 C541.8,337.1 546.6,333.9 548.2,333.0 C549.7,332.2 554.5,330.2 556.0,329.3 C557.6,328.5 562.4,325.1 563.9,324.3 C565.5,323.5 570.3,321.8 571.8,321.1 C573.4,320.5 578.2,318.7 579.7,318.0 C581.3,317.4 586.1,315.5 587.6,314.8 C589.2,314.1 593.9,311.8 595.5,311.0 C597.1,310.2 601.8,307.9 603.4,307.0 C605.0,306.2 609.7,303.4 611.3,302.4 C612.9,301.4 617.6,298.0 619.2,297.0 C620.8,296.1 625.5,293.6 627.1,292.7 C628.7,291.9 633.4,289.3 635.0,288.9 C636.6,288.4 641.3,288.3 642.9,288.1 C644.5,287.9 649.2,287.5 650.8,287.2 C652.4,286.8 657.1,284.7 658.7,284.3 C660.3,283.9 665.0,283.1 666.6,282.7 C668.2,282.3 672.9,281.0 674.5,280.6 C676.1,280.3 680.8,279.4 682.4,279.1 C683.9,278.7 688.7,277.6 690.3,277.3 C691.8,276.9 696.6,275.8 698.2,275.5 C699.7,275.1 704.5,274.2 706.1,273.9 C707.6,273.5 712.4,272.1 713.9,271.8 C715.5,271.5 720.3,271.0 721.8,270.9 C723.4,270.9 728.2,271.2 729.7,271.3 C731.3,271.4 736.1,271.5 737.6,271.7 C739.2,271.8 744.0,272.9 745.5,273.2 C747.1,273.4 751.8,273.8 753.4,273.9 C755.0,274.0 759.7,273.6 761.3,274.3 C762.9,274.9 767.6,279.3 769.2,280.8 C770.8,282.2 775.5,287.0 777.1,288.6 C778.7,290.3 783.4,295.9 785.0,297.4 C786.6,298.9 791.3,302.3 792.9,303.7 C794.5,305.0 799.2,309.8 800.8,311.0 C802.4,312.3 807.1,315.1 808.7,316.2 C810.3,317.3 815.0,320.9 816.6,322.1 C818.2,323.4 822.9,327.4 824.5,328.8 C826.1,330.2 830.8,334.7 832.4,336.1 C834.0,337.6 838.7,341.6 840.3,343.1 C841.8,344.7 846.6,349.7 848.2,351.2 C849.7,352.8 854.5,357.0 856.1,358.3 C857.6,359.7 862.4,363.7 864.0,365.0 C865.5,366.3 870.3,370.3 871.8,371.4 C873.4,372.5 878.2,375.0 879.7,376.0 C881.3,377.1 886.1,380.3 887.6,381.5 C889.2,382.7 894.0,387.0 895.5,388.2 C897.1,389.5 901.9,392.7 903.4,393.9 C905.0,395.1 909.7,398.8 911.3,399.9 C912.9,401.1 917.6,404.4 919.2,405.5 C920.8,406.7 925.5,410.3 927.1,411.4 C928.7,412.5 933.4,415.3 935.0,416.4 C936.6,417.5 941.3,421.0 942.9,422.3 C944.5,423.6 949.2,428.3 950.8,429.3 C952.4,430.3 957.1,431.9 958.7,432.6 C960.3,433.3 965.0,435.5 966.6,436.2 C968.2,436.9 972.9,439.0 974.5,439.6 C976.1,440.1 980.8,441.3 982.4,441.4 C984.0,441.5 988.7,440.6 990.3,440.5 C991.9,440.4 996.6,440.7 998.2,440.5 C999.7,440.4 1005.3,439.3 1006.1,439.2" fill="none" stroke="#cdca90" stroke-width="1.5" stroke-linejoin="round"/>
<path d="M-1.0,86.0 C-0.6,86.2 2.2,88.0 3.4,88.5 C4.6,89.0 9.7,90.8 11.3,91.0 C12.9,91.2 17.6,90.3 19.2,90.5 C20.8,90.7 25.5,92.8 27.1,93.0 C28.7,93.2 33.4,92.4 35.0,92.5 C36.6,92.6 41.3,93.6 42.9,94.0 C44.5,94.4 49.2,95.3 50.8,96.5 C52.3,97.6 57.1,103.3 58.7,105.1 C60.2,106.9 65.0,112.6 66.6,114.1 C68.1,115.7 72.9,119.1 74.5,120.7 C76.0,122.3 80.8,128.0 82.3,130.2 C83.9,132.5 88.7,140.9 90.2,143.1 C91.8,145.2 96.6,150.1 98.1,151.6 C99.7,153.1 104.5,157.4 106.0,158.1 C107.6,158.8 112.4,159.3 113.9,158.7 C115.5,158.1 120.2,154.0 121.8,152.0 C123.4,150.0 128.1,141.8 129.7,138.8 C131.3,135.7 136.0,124.4 137.6,121.5 C139.2,118.7 143.9,112.9 145.5,110.4 C147.1,107.9 151.8,99.1 153.4,96.7 C155.0,94.3 159.7,87.5 161.3,86.5 C162.9,85.5 167.6,86.1 169.2,87.0 C170.8,87.8 175.5,93.5 177.1,95.0 C178.7,96.4 183.4,100.4 185.0,101.3 C186.6,102.2 191.3,103.6 192.9,103.7 C194.5,103.9 199.2,102.9 200.8,103.0 C202.4,103.2 207.1,104.8 208.7,105.1 C210.2,105.5 215.0,106.3 216.6,106.5 C218.1,106.7 222.9,107.5 224.5,107.5 C226.0,107.4 230.8,106.4 232.4,106.3 C233.9,106.2 238.7,106.2 240.2,106.5 C241.8,106.8 246.6,108.8 248.1,109.4 C249.7,109.9 254.5,111.3 256.0,112.2 C257.6,113.0 262.4,116.6 263.9,117.5 C265.5,118.5 270.3,120.4 271.8,121.7 C273.4,123.0 278.1,127.0 279.7,130.5 C281.3,134.1 286.0,151.7 287.6,157.1 C289.2,162.5 293.9,178.1 295.5,184.3 C297.1,190.4 301.8,212.3 303.4,218.9 C305.0,225.5 309.7,244.4 311.3,250.3 C312.9,256.3 317.6,272.5 319.2,278.5 C320.8,284.4 325.5,304.5 327.1,309.9 C328.7,315.2 333.4,329.5 335.0,332.1 C336.6,334.6 341.3,334.8 342.9,335.2 C344.5,335.6 349.2,336.4 350.8,336.2 C352.4,336.0 357.1,333.5 358.7,333.3 C360.3,333.1 365.0,333.9 366.6,334.1 C368.1,334.3 372.9,334.9 374.5,335.3 C376.0,335.7 380.8,337.8 382.4,338.3 C383.9,338.8 388.7,339.7 390.3,340.1 C391.8,340.5 396.6,342.3 398.1,342.2 C399.7,342.1 404.5,339.9 406.0,339.1 C407.6,338.3 412.4,334.8 413.9,334.1 C415.5,333.4 420.3,332.5 421.8,332.0 C423.4,331.5 428.2,330.2 429.7,329.3 C431.3,328.4 436.0,323.7 437.6,322.8 C439.2,321.9 443.9,320.4 445.5,320.2 C447.1,319.9 451.8,319.5 453.4,320.4 C455.0,321.3 459.7,327.8 461.3,329.5 C462.9,331.1 467.6,335.9 469.2,337.2 C470.8,338.4 475.5,341.2 477.1,342.2 C478.7,343.3 483.4,347.2 485.0,347.8 C486.6,348.4 491.3,348.1 492.9,348.4 C494.5,348.7 499.2,350.5 500.8,350.9 C502.4,351.3 507.1,351.7 508.7,352.8 C510.3,353.8 515.0,359.2 516.6,361.1 C518.2,362.9 522.9,371.6 524.5,371.5 C526.0,371.4 530.8,363.3 532.4,360.2 C533.9,357.0 538.7,343.9 540.3,339.8 C541.8,335.7 546.6,322.8 548.2,319.1 C549.7,315.4 554.5,306.8 556.0,303.0 C557.6,299.3 562.4,286.2 563.9,281.3 C565.5,276.5 570.3,260.1 571.8,254.6 C573.4,249.2 578.2,230.8 579.7,227.2 C581.3,223.5 586.1,219.1 587.6,218.1 C589.2,217.1 593.9,217.0 595.5,217.5 C597.1,217.9 601.8,222.5 603.4,222.7 C605.0,223.0 609.7,220.0 611.3,219.9 C612.9,219.7 617.6,221.6 619.2,221.5 C620.8,221.3 625.5,218.8 627.1,218.4 C628.7,217.9 633.4,216.7 635.0,217.3 C636.6,217.9 641.3,223.1 642.9,224.5 C644.5,226.0 649.2,230.9 650.8,231.9 C652.4,232.9 657.1,233.3 658.7,234.6 C660.3,235.9 665.0,243.0 666.6,244.8 C668.2,246.6 672.9,250.8 674.5,252.5 C676.1,254.2 680.8,259.8 682.4,261.6 C683.9,263.4 688.7,269.2 690.3,270.6 C691.8,272.0 696.6,274.4 698.2,275.4 C699.7,276.3 704.5,278.9 706.1,280.2 C707.6,281.6 712.4,286.8 713.9,288.5 C715.5,290.2 720.3,295.4 721.8,297.4 C723.4,299.4 728.2,306.2 729.7,308.4 C731.3,310.6 736.1,316.4 737.6,319.1 C739.2,321.8 744.0,331.7 745.5,335.2 C747.1,338.8 751.8,350.5 753.4,354.3 C755.0,358.1 759.7,368.7 761.3,373.1 C762.9,377.6 767.6,394.4 769.2,398.7 C770.8,402.9 775.5,412.4 777.1,415.6 C778.7,418.8 783.4,428.6 785.0,431.0 C786.6,433.5 791.3,439.0 792.9,440.2 C794.5,441.5 799.2,444.0 800.8,443.5 C802.4,443.1 807.1,437.0 808.7,435.8 C810.3,434.7 815.0,433.5 816.6,432.3 C818.2,431.1 822.9,425.2 824.5,424.1 C826.1,422.9 830.8,421.7 832.4,421.1 C834.0,420.6 838.7,418.4 840.3,418.7 C841.8,419.0 846.6,423.2 848.2,423.8 C849.7,424.4 854.5,423.9 856.1,424.3 C857.6,424.7 862.4,427.2 864.0,427.7 C865.5,428.1 870.3,428.6 871.8,428.5 C873.4,428.4 878.2,427.2 879.7,427.0 C881.3,426.8 886.1,426.4 887.6,426.4 C889.2,426.5 894.0,427.7 895.5,427.9 C897.1,428.0 901.9,427.4 903.4,427.7 C905.0,428.0 909.7,430.0 911.3,430.8 C912.9,431.5 917.6,434.1 919.2,435.2 C920.8,436.3 925.5,440.6 927.1,441.9 C928.7,443.2 933.4,447.0 935.0,448.3 C936.6,449.6 941.3,453.5 942.9,455.1 C944.5,456.7 949.2,463.7 950.8,464.5 C952.4,465.3 957.1,463.3 958.7,463.2 C960.3,463.2 965.0,463.8 966.6,463.9 C968.2,464.1 972.9,465.0 974.5,465.0 C976.1,465.0 980.8,464.7 982.4,464.0 C984.0,463.3 988.7,459.1 990.3,457.8 C991.9,456.5 996.6,452.8 998.2,451.2 C999.7,449.5 1005.3,442.0 1006.1,440.9" fill="none" stroke="#d4d4dc" stroke-width="1.6" stroke-linejoin="round"/>
<path d="M-1.0,667.3 C-0.6,667.3 2.2,667.3 3.4,667.3 C4.6,667.3 9.7,667.4 11.3,667.3 C12.9,667.2 17.6,666.7 19.2,666.5 C20.8,666.3 25.5,665.5 27.1,665.5 C28.7,665.5 33.4,665.9 35.0,666.0 C36.6,666.1 41.3,666.8 42.9,667.0 C44.5,667.2 49.2,667.5 50.8,667.6 C52.3,667.8 57.1,668.3 58.7,668.5 C60.2,668.7 65.0,669.3 66.6,669.5 C68.1,669.7 72.9,670.9 74.5,671.0 C76.0,671.1 80.8,670.4 82.3,670.3 C83.9,670.3 88.7,670.3 90.2,670.6 C91.8,670.8 96.6,672.6 98.1,673.0 C99.7,673.3 104.5,674.1 106.0,674.1 C107.6,674.2 112.4,673.8 113.9,673.7 C115.5,673.5 120.2,672.6 121.8,672.5 C123.4,672.3 128.1,671.8 129.7,671.9 C131.3,671.9 136.0,673.2 137.6,673.2 C139.2,673.2 143.9,671.6 145.5,671.7 C147.1,671.8 151.8,673.4 153.4,673.8 C155.0,674.2 159.7,675.3 161.3,675.4 C162.9,675.5 167.6,675.0 169.2,674.9 C170.8,674.8 175.5,674.5 177.1,674.3 C178.7,674.2 183.4,673.7 185.0,673.7 C186.6,673.7 191.3,674.1 192.9,674.3 C194.5,674.5 199.2,675.8 200.8,676.0 C202.4,676.3 207.1,676.9 208.7,677.1 C210.2,677.3 215.0,677.5 216.6,677.8 C218.1,678.0 222.9,679.4 224.5,679.6 C226.0,679.7 230.8,679.6 232.4,679.6 C233.9,679.6 238.7,679.8 240.2,679.7 C241.8,679.7 246.6,679.2 248.1,679.1 C249.7,679.1 254.5,679.3 256.0,679.4 C257.6,679.5 262.4,679.9 263.9,680.0 C265.5,680.1 270.3,680.5 271.8,680.5 C273.4,680.5 278.1,680.7 279.7,680.1 C281.3,679.4 286.0,675.1 287.6,674.2 C289.2,673.2 293.9,671.4 295.5,670.7 C297.1,670.1 301.8,668.0 303.4,667.6 C305.0,667.1 309.7,666.2 311.3,665.9 C312.9,665.7 317.6,665.2 319.2,665.2 C320.8,665.2 325.5,666.1 327.1,666.0 C328.7,665.8 333.4,664.0 335.0,663.6 C336.6,663.3 341.3,662.6 342.9,662.5 C344.5,662.3 349.2,662.0 350.8,662.0 C352.4,662.0 357.1,661.6 358.7,662.2 C360.3,662.8 365.0,667.0 366.6,667.9 C368.1,668.8 372.9,670.5 374.5,671.1 C376.0,671.7 380.8,673.4 382.4,673.7 C383.9,674.1 388.7,674.2 390.3,674.3 C391.8,674.3 396.6,674.3 398.1,674.3 C399.7,674.2 404.5,673.3 406.0,673.4 C407.6,673.5 412.4,674.9 413.9,675.0 C415.5,675.1 420.3,674.1 421.8,674.1 C423.4,674.0 428.2,674.5 429.7,674.5 C431.3,674.6 436.0,674.9 437.6,675.0 C439.2,675.0 443.9,675.0 445.5,674.9 C447.1,674.8 451.8,674.2 453.4,674.2 C455.0,674.1 459.7,674.2 461.3,674.3 C462.9,674.4 467.6,675.1 469.2,675.3 C470.8,675.4 475.5,675.3 477.1,675.5 C478.7,675.6 483.4,676.9 485.0,677.1 C486.6,677.3 491.3,677.4 492.9,677.7 C494.5,677.9 499.2,679.3 500.8,679.5 C502.4,679.6 507.1,679.5 508.7,679.2 C510.3,678.8 515.0,676.4 516.6,676.1 C518.2,675.8 522.9,676.4 524.5,676.0 C526.0,675.5 530.8,672.9 532.4,671.5 C533.9,670.1 538.7,663.2 540.3,661.9 C541.8,660.6 546.6,659.1 548.2,658.5 C549.7,657.8 554.5,656.2 556.0,655.7 C557.6,655.2 562.4,654.0 563.9,653.6 C565.5,653.2 570.3,652.2 571.8,651.9 C573.4,651.6 578.2,650.7 579.7,650.3 C581.3,650.0 586.1,648.5 587.6,648.6 C589.2,648.8 593.9,651.2 595.5,651.5 C597.1,651.8 601.8,651.1 603.4,651.5 C605.0,651.9 609.7,654.0 611.3,655.3 C612.9,656.5 617.6,662.9 619.2,664.1 C620.8,665.2 625.5,666.4 627.1,667.0 C628.7,667.5 633.4,669.5 635.0,669.8 C636.6,670.0 641.3,669.5 642.9,669.6 C644.5,669.8 649.2,671.2 650.8,671.5 C652.4,671.8 657.1,672.6 658.7,672.8 C660.3,673.1 665.0,674.0 666.6,674.1 C668.2,674.2 672.9,673.8 674.5,673.8 C676.1,673.8 680.8,673.8 682.4,673.9 C683.9,674.0 688.7,674.8 690.3,674.9 C691.8,674.9 696.6,674.3 698.2,674.4 C699.7,674.4 704.5,675.2 706.1,675.4 C707.6,675.5 712.4,675.6 713.9,675.8 C715.5,675.9 720.3,676.6 721.8,676.6 C723.4,676.6 728.2,675.7 729.7,675.6 C731.3,675.5 736.1,675.9 737.6,675.6 C739.2,675.4 744.0,674.2 745.5,673.3 C747.1,672.4 751.8,667.5 753.4,666.6 C755.0,665.8 759.7,665.2 761.3,664.8 C762.9,664.4 767.6,663.1 769.2,662.4 C770.8,661.7 775.5,658.3 777.1,657.5 C778.7,656.7 783.4,655.2 785.0,654.5 C786.6,653.8 791.3,651.2 792.9,650.8 C794.5,650.3 799.2,650.5 800.8,650.3 C802.4,650.0 807.1,648.5 808.7,648.2 C810.3,648.0 815.0,647.3 816.6,647.3 C818.2,647.2 822.9,647.1 824.5,647.8 C826.1,648.4 830.8,653.0 832.4,653.7 C834.0,654.4 838.7,654.7 840.3,654.6 C841.8,654.6 846.6,652.9 848.2,653.2 C849.7,653.5 854.5,657.1 856.1,657.6 C857.6,658.1 862.4,658.0 864.0,658.4 C865.5,658.9 870.3,661.4 871.8,661.9 C873.4,662.4 878.2,663.2 879.7,663.5 C881.3,663.9 886.1,665.1 887.6,665.3 C889.2,665.5 894.0,665.5 895.5,665.8 C897.1,666.0 901.9,667.6 903.4,667.9 C905.0,668.1 909.7,668.0 911.3,668.2 C912.9,668.3 917.6,668.7 919.2,669.2 C920.8,669.7 925.5,672.5 927.1,673.1 C928.7,673.8 933.4,675.1 935.0,675.4 C936.6,675.7 941.3,676.2 942.9,676.1 C944.5,676.0 949.2,675.2 950.8,674.6 C952.4,674.0 957.1,670.9 958.7,670.5 C960.3,670.0 965.0,670.0 966.6,670.0 C968.2,670.0 972.9,670.5 974.5,670.6 C976.1,670.8 980.8,671.2 982.4,671.3 C984.0,671.4 988.7,671.8 990.3,671.6 C991.9,671.4 996.6,669.5 998.2,669.0 C999.7,668.6 1005.3,667.7 1006.1,667.5" fill="none" stroke="#cdca90" stroke-width="1.2" stroke-linejoin="round"/>
<path d="M-1.0,661.0 C-0.6,661.3 2.2,663.1 3.4,664.0 C4.6,664.9 9.7,668.8 11.3,669.5 C12.9,670.2 17.6,670.8 19.2,670.9 C20.8,671.0 25.5,671.0 27.1,671.0 C28.7,671.0 33.4,670.7 35.0,670.7 C36.6,670.7 41.3,671.1 42.9,671.3 C44.5,671.4 49.2,671.8 50.8,672.0 C52.3,672.2 57.1,672.9 58.7,673.1 C60.2,673.3 65.0,674.5 66.6,674.3 C68.1,674.1 72.9,671.8 74.5,671.3 C76.0,670.8 80.8,669.6 82.3,669.3 C83.9,669.1 88.7,668.8 90.2,669.1 C91.8,669.5 96.6,672.3 98.1,672.8 C99.7,673.3 104.5,673.7 106.0,674.0 C107.6,674.3 112.4,675.9 113.9,676.1 C115.5,676.2 120.2,675.7 121.8,675.6 C123.4,675.4 128.1,674.8 129.7,674.6 C131.3,674.4 136.0,674.1 137.6,673.6 C139.2,673.1 143.9,669.6 145.5,669.4 C147.1,669.2 151.8,670.9 153.4,671.5 C155.0,672.1 159.7,675.0 161.3,675.3 C162.9,675.7 167.6,675.2 169.2,675.2 C170.8,675.2 175.5,674.8 177.1,675.1 C178.7,675.4 183.4,677.8 185.0,678.0 C186.6,678.2 191.3,677.2 192.9,677.1 C194.5,676.9 199.2,676.6 200.8,676.8 C202.4,677.0 207.1,678.6 208.7,679.0 C210.2,679.3 215.0,680.2 216.6,680.4 C218.1,680.6 222.9,681.0 224.5,681.2 C226.0,681.3 230.8,682.0 232.4,682.2 C233.9,682.3 238.7,683.0 240.2,682.7 C241.8,682.4 246.6,679.7 248.1,679.3 C249.7,678.9 254.5,678.5 256.0,678.5 C257.6,678.4 262.4,678.9 263.9,678.9 C265.5,679.0 270.3,679.1 271.8,678.9 C273.4,678.8 278.1,678.4 279.7,677.5 C281.3,676.5 286.0,670.5 287.6,669.1 C289.2,667.6 293.9,664.3 295.5,663.0 C297.1,661.7 301.8,657.2 303.4,656.2 C305.0,655.2 309.7,653.3 311.3,653.0 C312.9,652.6 317.6,652.0 319.2,653.0 C320.8,654.0 325.5,661.7 327.1,662.9 C328.7,664.0 333.4,663.7 335.0,664.3 C336.6,664.9 341.3,668.0 342.9,668.7 C344.5,669.4 349.2,670.8 350.8,671.1 C352.4,671.4 357.1,671.2 358.7,671.4 C360.3,671.6 365.0,672.2 366.6,672.9 C368.1,673.5 372.9,677.3 374.5,677.9 C376.0,678.5 380.8,678.8 382.4,678.8 C383.9,678.8 388.7,677.6 390.3,677.4 C391.8,677.3 396.6,677.5 398.1,677.1 C399.7,676.8 404.5,674.4 406.0,673.9 C407.6,673.4 412.4,672.5 413.9,672.1 C415.5,671.6 420.3,669.4 421.8,669.3 C423.4,669.3 428.2,671.3 429.7,671.6 C431.3,672.0 436.0,672.4 437.6,672.8 C439.2,673.2 443.9,675.5 445.5,675.9 C447.1,676.2 451.8,675.9 453.4,676.3 C455.0,676.6 459.7,679.0 461.3,679.3 C462.9,679.5 467.6,679.0 469.2,678.9 C470.8,678.8 475.5,678.2 477.1,678.1 C478.7,678.1 483.4,678.2 485.0,678.3 C486.6,678.4 491.3,678.9 492.9,679.1 C494.5,679.2 499.2,679.6 500.8,679.6 C502.4,679.7 507.1,680.0 508.7,679.4 C510.3,678.9 515.0,674.6 516.6,674.0 C518.2,673.5 522.9,674.7 524.5,673.7 C526.0,672.7 530.8,666.9 532.4,664.0 C533.9,661.0 538.7,646.9 540.3,644.2 C541.8,641.6 546.6,638.2 548.2,637.5 C549.7,636.8 554.5,637.7 556.0,637.3 C557.6,636.9 562.4,633.3 563.9,633.6 C565.5,633.8 570.3,637.6 571.8,639.9 C573.4,642.2 578.2,654.4 579.7,656.4 C581.3,658.4 586.1,658.9 587.6,659.8 C589.2,660.7 593.9,664.7 595.5,665.7 C597.1,666.6 601.8,668.9 603.4,669.4 C605.0,669.9 609.7,670.4 611.3,670.7 C612.9,670.9 617.6,671.4 619.2,671.7 C620.8,672.0 625.5,673.9 627.1,674.1 C628.7,674.3 633.4,674.3 635.0,673.8 C636.6,673.4 641.3,670.0 642.9,669.9 C644.5,669.7 649.2,672.0 650.8,672.4 C652.4,672.8 657.1,673.8 658.7,673.9 C660.3,674.1 665.0,674.2 666.6,674.1 C668.2,674.1 672.9,673.4 674.5,673.8 C676.1,674.1 680.8,677.6 682.4,677.9 C683.9,678.3 688.7,677.6 690.3,677.3 C691.8,677.0 696.6,674.9 698.2,674.8 C699.7,674.7 704.5,676.3 706.1,676.6 C707.6,676.9 712.4,677.9 713.9,677.8 C715.5,677.6 720.3,675.7 721.8,675.3 C723.4,674.9 728.2,673.8 729.7,673.9 C731.3,674.0 736.1,676.8 737.6,676.4 C739.2,676.0 744.0,672.1 745.5,670.0 C747.1,667.9 751.8,657.1 753.4,655.5 C755.0,653.9 759.7,654.8 761.3,654.3 C762.9,653.9 767.6,652.5 769.2,650.9 C770.8,649.3 775.5,639.8 777.1,638.6 C778.7,637.4 783.4,638.3 785.0,639.0 C786.6,639.7 791.3,645.3 792.9,646.0 C794.5,646.7 799.2,646.2 800.8,646.2 C802.4,646.2 807.1,644.6 808.7,645.6 C810.3,646.6 815.0,654.8 816.6,655.9 C818.2,657.0 822.9,656.0 824.5,656.5 C826.1,657.1 830.8,660.7 832.4,661.3 C834.0,662.0 838.7,663.1 840.3,663.1 C841.8,663.0 846.6,661.1 848.2,660.8 C849.7,660.4 854.5,659.3 856.1,659.2 C857.6,659.2 862.4,660.0 864.0,660.4 C865.5,660.7 870.3,662.1 871.8,662.5 C873.4,662.8 878.2,663.3 879.7,664.0 C881.3,664.8 886.1,669.0 887.6,669.8 C889.2,670.6 894.0,671.7 895.5,672.3 C897.1,672.9 901.9,675.2 903.4,675.4 C905.0,675.6 909.7,674.0 911.3,673.9 C912.9,673.8 917.6,674.1 919.2,674.4 C920.8,674.6 925.5,676.1 927.1,676.5 C928.7,676.9 933.4,678.4 935.0,678.4 C936.6,678.4 941.3,677.1 942.9,676.8 C944.5,676.5 949.2,676.4 950.8,675.3 C952.4,674.3 957.1,667.7 958.7,666.5 C960.3,665.4 965.0,663.8 966.6,663.5 C968.2,663.1 972.9,662.6 974.5,662.9 C976.1,663.1 980.8,665.4 982.4,665.9 C984.0,666.4 988.7,667.3 990.3,667.9 C991.9,668.4 996.6,671.2 998.2,671.5 C999.7,671.9 1005.3,671.5 1006.1,671.5" fill="none" stroke="#d8d8e4" stroke-width="1.1" stroke-linejoin="round"/>
<ellipse cx="531" cy="420.25" rx="30.4" ry="29.15" fill="none" stroke="#e8353a" stroke-width="2.3"/>
<polygon points="534.6,428.4 536.2,427.6 557.8,461.3 563.2,458.4 563.6,475.8 548.8,466.2 552.3,464.6" fill="#ec3030"/>
<line x1="1009.5" y1="26.4" x2="1014.5" y2="26.4" stroke="#555" stroke-width="1"/>
<line x1="1009.5" y1="81.8" x2="1014.5" y2="81.8" stroke="#555" stroke-width="1"/>
<line x1="1009.5" y1="137.3" x2="1014.5" y2="137.3" stroke="#555" stroke-width="1"/>
<line x1="1009.5" y1="192.8" x2="1014.5" y2="192.8" stroke="#555" stroke-width="1"/>
<line x1="1009.5" y1="248.2" x2="1014.5" y2="248.2" stroke="#555" stroke-width="1"/>
<line x1="1009.5" y1="303.6" x2="1014.5" y2="303.6" stroke="#555" stroke-width="1"/>
<line x1="1009.5" y1="359.1" x2="1014.5" y2="359.1" stroke="#555" stroke-width="1"/>
<line x1="1009.5" y1="414.6" x2="1014.5" y2="414.6" stroke="#555" stroke-width="1"/>
<line x1="1009.5" y1="470.0" x2="1014.5" y2="470.0" stroke="#555" stroke-width="1"/>
<line x1="1009.5" y1="525.5" x2="1014.5" y2="525.5" stroke="#555" stroke-width="1"/>
<rect x="1009" y="664.2" width="69.5" height="19.5" fill="#d4952c"/>
<line x1="1009.5" y1="674.4" x2="1015" y2="674.4" stroke="#f5e6c8" stroke-width="1"/>
<path d="M1080,676 L1072,676 Q1068.5,676 1068.5,680 L1068.5,706 L1080,706 Z" fill="#0a0a0a" stroke="#2c2c2c" stroke-width="1"/>
<path d="M1073.3,688.5 L1076.3,691.5 L1073.3,694.5" fill="none" stroke="#777" stroke-width="1.1"/>
<rect x="973.8" y="7.8" width="18" height="15.8" fill="none" stroke="#4a4a4a" stroke-width="1"/>
<path d="M1033.5,3.3 L1036,11 Q1037,14.3 1041,14.3 L1062,14.3 Q1066,14.3 1067,11 L1069,3.3" fill="#000" stroke="#444" stroke-width="1"/>
<path d="M1048.5,9.5 L1051.5,6.5 L1054.5,9.5" fill="none" stroke="#888" stroke-width="1.2"/>
<path d="M16,31.8 H23.5 M18.8,29 L16,31.8 L18.8,34.6" fill="none" stroke="#c8c8c8" stroke-width="1.4"/>
<path d="M948.3,532.5 H955.3 M952.6,529.8 L955.3,532.5 L952.6,535.2" fill="none" stroke="#c8c8c8" stroke-width="1.3"/>
</svg>
<div class="bg" style="left:0;top:4px;width:672px;height:19px"></div>
<div class="bg" style="left:97px;top:23px;width:206px;height:15px"></div>
<div class="bg" style="left:0;top:562.3px;width:680px;height:12.5px"></div>
<div class="t" style="left:2.5px;top:7.5px"><span class="cj">时间</span>:2020-11-21 08:00</div>
<div class="t" style="left:150px;top:7.5px"><span class="cj">开</span>:<span class="gr">18660.00</span></div>
<div class="t" style="left:234px;top:7.5px"><span class="cj">高</span>:<span class="gr">18970.00</span></div>
<div class="t" style="left:317.5px;top:7.5px"><span class="cj">低</span>:<span class="gr">18324.62</span></div>
<div class="t" style="left:401px;top:7.5px"><span class="cj">收</span>:<span class="gr">18706.43</span></div>
<div class="t" style="left:484px;top:7.5px"><span class="cj">涨幅</span>:<span class="gr">0.25%(46.43)</span></div>
<div class="t" style="left:606px;top:7.5px"><span class="cj">振幅</span>:<span class="gr">3.46%</span></div>
<div class="t" style="left:26px;top:26px">10450</div>
<div class="t" style="left:26px;top:26px;opacity:0.75"> 9A</div>
<div class="t" style="left:100px;top:26px;color:#d6d6d6">MA(7):17610.05</div>
<div class="t" style="left:205px;top:26px;color:#d2c98a">MA(30):15167.32</div>
<div class="t" style="left:30px;top:565.7px">VOLUME</div>
<div class="t" style="left:120px;top:565.7px">VOLUME:27,314.3891</div>
<div class="t" style="left:250px;top:565.7px;color:#7d7d7d"><span class="cj">预估成交量</span>:38,092.7997</div>
<div class="t" style="left:400px;top:565.7px;color:#d6d6d6">MA(5):41,088.4161</div>
<div class="t" style="left:524px;top:565.7px;color:#d2c98a">MA(10):34,988.8836</div>
<div class="t" style="left:917px;top:526px;font-family:'Liberation Sans',sans-serif;letter-spacing:0;font-size:12px">6433</div>
<div class="note">10月25日</div>
<div class="ax" style="top:21.4px">11000.00</div><div class="ax" style="top:76.8px">10500.00</div><div class="ax" style="top:132.3px">10000.00</div><div class="ax" style="top:187.8px">9500.00</div><div class="ax" style="top:243.2px">9000.00</div><div class="ax" style="top:298.6px">8500.00</div><div class="ax" style="top:354.1px">8000.00</div><div class="ax" style="top:409.6px">7500.00</div><div class="ax" style="top:465.0px">7000.00</div><div class="ax" style="top:520.5px">6500.00</div><div class="ax" style="top:570.5px">150.00k</div><div class="ax" style="top:610.3px">100.00k</div><div class="ax" style="top:650.3px">50.00k</div><div class="ax" style="top:690.4px">0</div><div class="ax" style="top:668.5px;color:#fff6e6;font-weight:bold">27.3k</div>
</body></html>
